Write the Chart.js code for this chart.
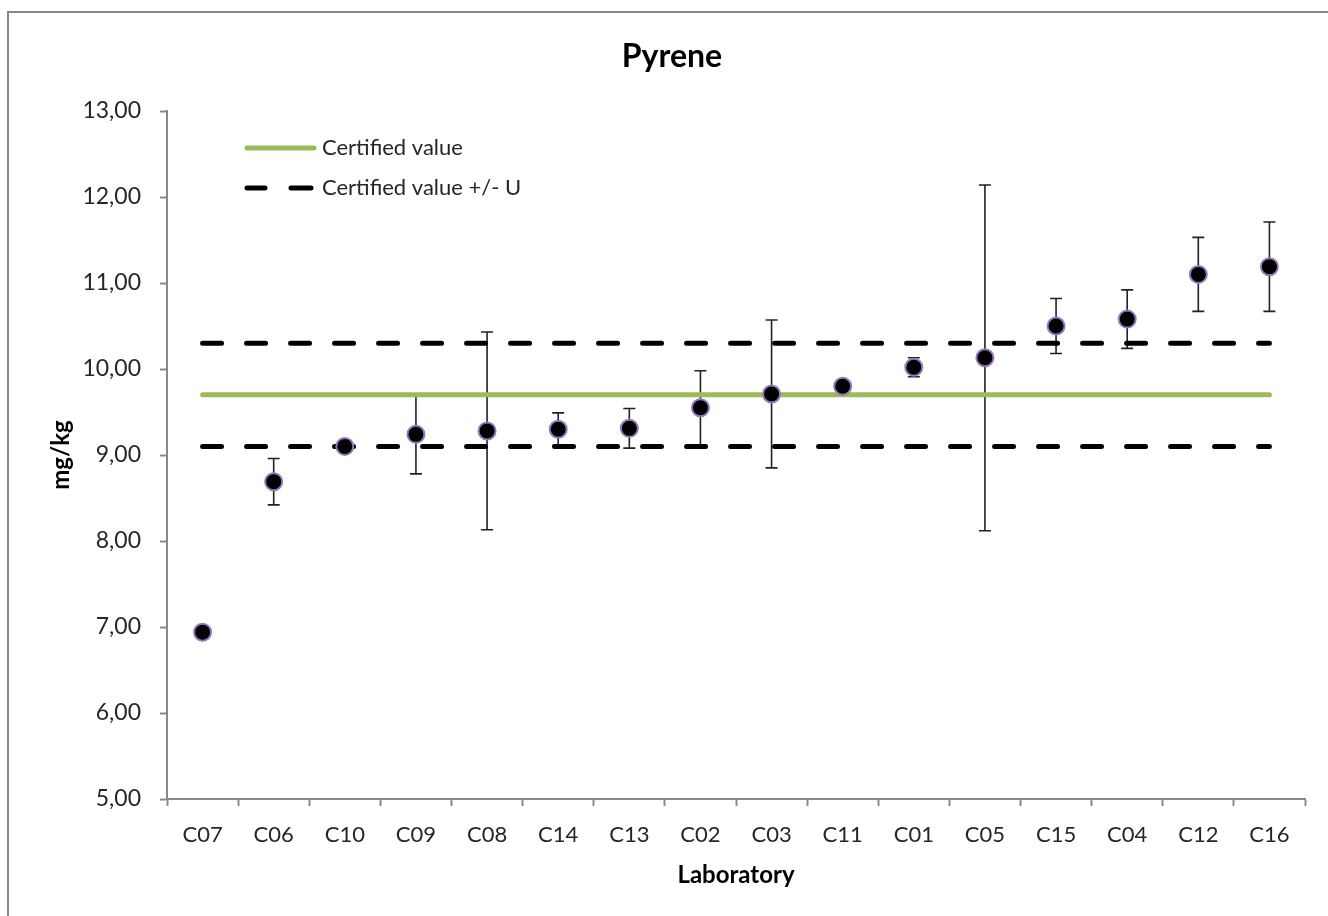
<!DOCTYPE html>
<html>
<head>
<meta charset="utf-8">
<title>Pyrene</title>
<script src="https://cdn.jsdelivr.net/npm/chart.js@4/dist/chart.umd.min.js"></script>
<style>
  html,body{margin:0;padding:0;background:#fff;overflow:hidden;}
  #frame{position:absolute;left:7px;top:11px;right:-20px;bottom:-20px;border:2px solid #888;}
  #wrap{position:absolute;left:0;top:0;width:1328px;height:916px;}
</style>
</head>
<body>
<div id="frame"></div>
<div id="wrap"><canvas id="chart" width="1328" height="916"></canvas></div>
<script>
// laboratories, sorted by reported mean
const labs = ['C07','C06','C10','C09','C08','C14','C13','C02','C03','C11','C01','C05','C15','C04','C12','C16'];
const means = [6.94, 8.69, 9.10, 9.24, 9.28, 9.30, 9.31, 9.55, 9.71, 9.80, 10.02, 10.13, 10.50, 10.58, 11.10, 11.19];
const uncert = [0, 0.27, 0.05, 0.46, 1.15, 0.19, 0.23, 0.43, 0.86, 0.05, 0.11, 2.01, 0.32, 0.34, 0.43, 0.52];
const certified = 9.70;
const expandedU = 0.60;
const titleText = 'Pyrene';
const legendText = ['Certified value', 'Certified value +/- U'];

const FONT = 'Lato, "Open Sans", sans-serif';
const TXT = '#262626';
const AXIS = '#888';

function hline(v){
  return [{x: labs[0], y: v}, {x: labs[labs.length-1], y: v}];
}

// error bars go under the lines and markers
const errorBars = {
  id: 'errorBars',
  beforeDatasetsDraw(chart){
    const {ctx, scales:{x, y}} = chart;
    ctx.save();
    ctx.strokeStyle = '#222';
    ctx.lineWidth = 1.6;
    means.forEach((m, i) => {
      const u = uncert[i];
      if(!u) return;
      const px = x.getPixelForValue(i);
      const top = y.getPixelForValue(m + u), bot = y.getPixelForValue(m - u);
      ctx.beginPath();
      ctx.moveTo(px, top); ctx.lineTo(px, bot);
      ctx.moveTo(px-6, top); ctx.lineTo(px+6, top);
      ctx.moveTo(px-6, bot); ctx.lineTo(px+6, bot);
      ctx.stroke();
    });
    ctx.restore();
  }
};

// title plus the legend box in the upper left of the plot
const innerLegend = {
  id: 'innerLegend',
  afterDraw(chart){
    const ctx = chart.ctx;
    ctx.save();
    ctx.fillStyle = '#000';
    ctx.font = 'bold 32px ' + FONT;
    ctx.textAlign = 'center';
    ctx.textBaseline = 'middle';
    ctx.fillText(titleText, 672, 57);

    ctx.lineCap = 'round';
    ctx.lineWidth = 5;
    ctx.strokeStyle = '#9bbb59';
    ctx.beginPath(); ctx.moveTo(247, 148); ctx.lineTo(314, 148); ctx.stroke();
    ctx.strokeStyle = '#000';
    ctx.beginPath();
    ctx.moveTo(247, 188); ctx.lineTo(265, 188);
    ctx.moveTo(291, 188); ctx.lineTo(311, 188);
    ctx.stroke();
    ctx.fillStyle = TXT;
    ctx.font = '22px ' + FONT;
    ctx.textAlign = 'left';
    ctx.fillText(legendText[0], 322, 148);
    ctx.fillText(legendText[1], 322, 188);
    ctx.restore();
  }
};

new Chart(document.getElementById('chart'), {
  type: 'line',
  data: {
    labels: labs,
    datasets: [
      {
        label: 'Laboratories',
        data: means,
        showLine: false,
        pointRadius: 8.5,
        pointBorderWidth: 2,
        pointBackgroundColor: '#000',
        pointBorderColor: '#9277be'
      },
      {
        label: legendText[0],
        data: hline(certified),
        borderColor: '#9bbb59',
        borderWidth: 5,
        borderCapStyle: 'round',
        pointRadius: 0
      },
      {
        label: legendText[1],
        data: hline(certified + expandedU),
        borderColor: '#000',
        borderWidth: 5,
        borderDash: [19, 25],
        borderCapStyle: 'round',
        pointRadius: 0
      },
      {
        label: legendText[1],
        data: hline(certified - expandedU),
        borderColor: '#000',
        borderWidth: 5,
        borderDash: [19, 25],
        borderCapStyle: 'round',
        pointRadius: 0
      }
    ]
  },
  options: {
    responsive: false,
    animation: false,
    layout: {padding: {left: 0, right: 23, top: 111, bottom: 0}},
    plugins: {
      legend: {display: false},
      tooltip: {enabled: false},
      title: {display: false}
    },
    scales: {
      x: {
        type: 'category',
        offset: true,
        afterFit(s){ s.height = 117; },
        border: {color: AXIS, width: 2},
        grid: {offset: true, drawOnChartArea: false, drawTicks: true, tickLength: 7, color: AXIS, tickWidth: 2},
        ticks: {color: TXT, padding: 16, maxRotation: 0, font: {family: FONT, size: 22}},
        title: {display: true, text: 'Laboratory', color: '#000', font: {family: FONT, size: 24, weight: 'bold', lineHeight: 1.2}, padding: {top: 0, bottom: 26}}
      },
      y: {
        min: 5, max: 13,
        afterFit(s){ s.width = 167; },
        border: {color: AXIS, width: 2},
        grid: {drawOnChartArea: false, drawTicks: true, tickLength: 7, color: AXIS, tickWidth: 2},
        ticks: {
          stepSize: 1, color: TXT, padding: 19,
          font: {family: FONT, size: 23},
          callback: v => v.toFixed(2).replace('.', ',')
        },
        title: {display: true, text: 'mg/kg', color: '#000', font: {family: FONT, size: 24, weight: 'bold', lineHeight: 1.2}, padding: {top: 47, bottom: 0}}
      }
    }
  },
  plugins: [errorBars, innerLegend]
});
</script>
</body>
</html>
